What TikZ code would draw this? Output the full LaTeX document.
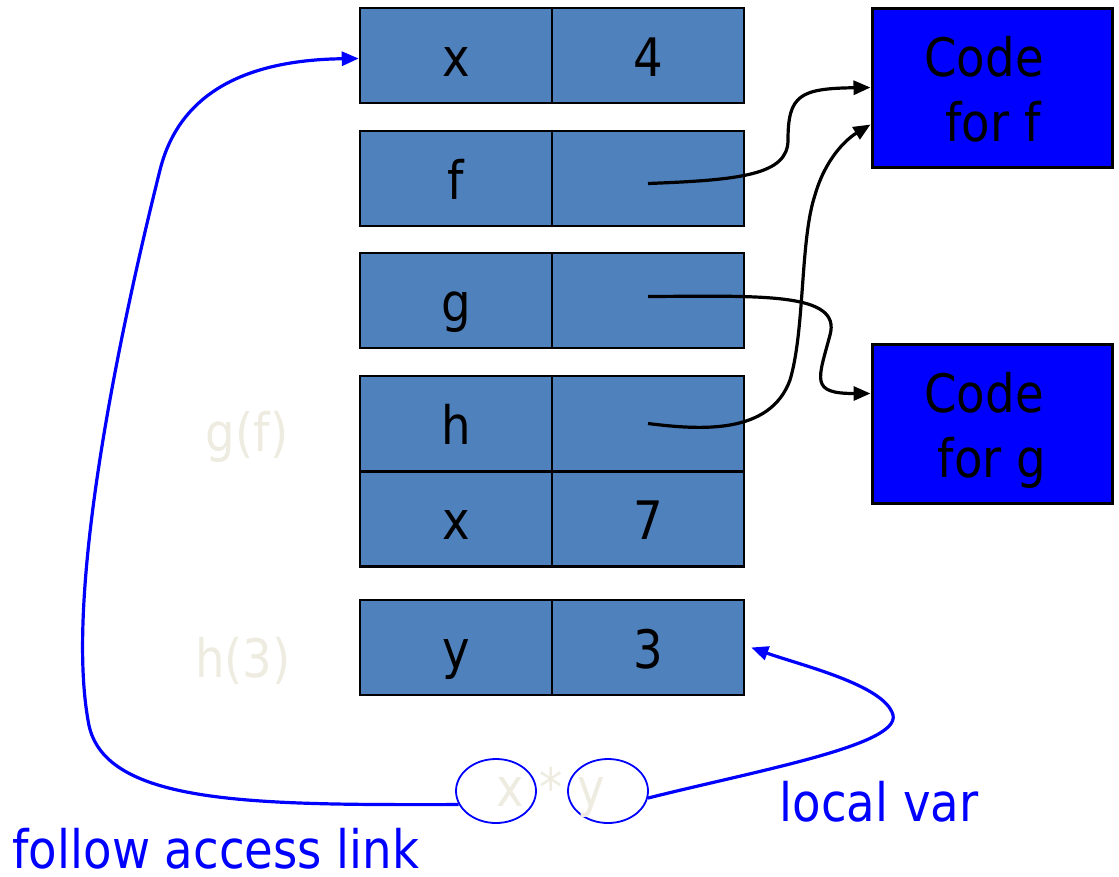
\documentclass[tikz,border=0pt]{standalone}
\usepackage{fontspec}
\setmainfont{DejaVu Sans}[FakeStretch=0.88]
\usetikzlibrary{arrows.meta,shapes.geometric}
\definecolor{cellblue}{HTML}{4F81BD}
\definecolor{pureblue}{HTML}{0000FF}
\definecolor{pale}{HTML}{EEECE1}
\begin{document}
\begin{tikzpicture}[x=1pt,y=-1pt,
  big/.style={font=\fontsize{53}{65}\selectfont},
  cell/.style={big,draw=black,line width=2.5pt,fill=cellblue,minimum width=192pt,
    minimum height=95pt,inner sep=0pt,text height=41pt,text depth=0pt},
  codebox/.style={draw=black,line width=3pt,fill=pureblue,minimum width=240pt,
    minimum height=159pt,inner sep=0pt},
  codetext/.style={big,text=black,anchor=base,inner sep=0pt},
  oval/.style={ellipse,draw=pureblue,line width=1.8pt,minimum width=80pt,minimum height=64pt,inner sep=0pt},
  palelabel/.style={big,text=pale,anchor=base,inner sep=0pt},
  bluelabel/.style={big,text=pureblue,anchor=base,inner sep=0pt},
  blk/.style={draw=black,line width=3.2pt,-{Triangle[length=17pt,width=14pt]}},
  blu/.style={draw=pureblue,line width=3.2pt,-{Triangle[length=17pt,width=14pt]}}]
\useasboundingbox (0,0) rectangle (1119,876);
% frame cells
\node[cell] (xn) at (456,55.5) {x};
\node[cell] (xv) at (648,55.5) {4};
\node[cell] (fn) at (456,178.5) {f};
\node[cell] (fv) at (648,178.5) {};
\node[cell] (gn) at (456,300.5) {g};
\node[cell] (gv) at (648,300.5) {};
\node[cell] (hn) at (456,423.5) {h};
\node[cell] (hv) at (648,423.5) {};
\node[cell] (x2n) at (456,519) {x};
\node[cell] (x2v) at (648,519) {7};
\node[cell] (yn) at (456,647.5) {y};
\node[cell] (yv) at (648,647.5) {3};
% code boxes
\node[codebox] (cf) at (992,87.5) {};
\node[codetext] (cf1) at (984,76) {Code};
\node[codetext] (cf2) at (993,141) {for f};
\node[codebox] (cg) at (992,423.5) {};
\node[codetext] (cg1) at (984,412) {Code};
\node[codetext] (cg2) at (992,477) {for g};
% labels
\node[palelabel] (lgf) at (247,451) {g(f)};
\node[palelabel] (lh3) at (243,677) {h(3)};
\node[bluelabel] (llv) at (879,821) {local var};
\node[bluelabel] (lfal) at (216,868) {follow access link};
% expression
\node[oval] (e1) at (496,791) {};
\node[oval] (e2) at (608,791) {};
\node[palelabel] (xy) at (551,806) {x * y};
% black pointers
\draw[blk] ([yshift=-5pt]fv.center) .. controls (740,180) and (788,175) .. (788,140)
  .. controls (788,95) and (800,88.5) .. (cf.west);
\draw[blk] ([yshift=4pt]gv.center) .. controls (760,296) and (842,292) .. (830,335)
  .. controls (818,380) and (810,393.5) .. ([yshift=30pt]cg.west);
\draw[blk] (hv.center) .. controls (700,430) and (770,435) .. (790,380)
  .. controls (805,330) and (800,240) .. (815,195)
  .. controls (825,160) and (845,140) .. ([yshift=-37pt]cf.west);
% blue links
\draw[blu] (e1.200) .. controls (250,805) and (100,805) .. (88,720)
  .. controls (65,590) and (120,330) .. (160,170)
  .. controls (180,90) and (250,60) .. ([yshift=-3pt]xn.west);
\draw[blu] (e2.-10) .. controls (760,770) and (900,745) .. (893,715)
  .. controls (885,685) and (800,665) .. ([xshift=6pt]yv.east);
\end{tikzpicture}
\end{document}
